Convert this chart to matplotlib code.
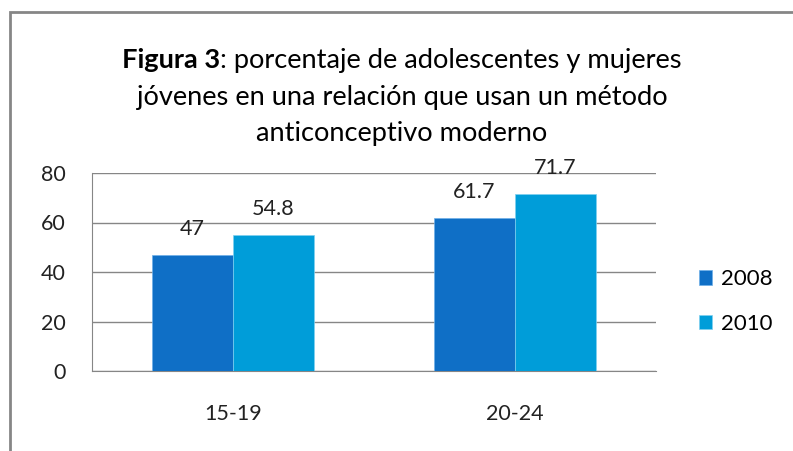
import numpy as np
import matplotlib
matplotlib.use("Agg")
import matplotlib.pyplot as plt
from matplotlib.patches import Rectangle

groups = ["15-19", "20-24"]
years = ["2008", "2010"]
v2008 = [47, 61.7]
v2010 = [54.8, 71.7]
lab2008 = ["47", "61.7"]
lab2010 = ["54.8", "71.7"]
colors = ["#0F6FC6", "#009DD9"]

title_bold = "Figura 3"
title_rest = [": porcentaje de adolescentes y mujeres",
              "jóvenes en una relación que usan un método",
              "anticonceptivo moderno"]

plt.rcParams['font.family'] = ['Lato', 'DejaVu Sans']
W, H = 793, 451
fig = plt.figure(figsize=(W / 100, H / 100), dpi=100)
fig.patch.set_facecolor("white")

# outer chart border (only top and left visible in the crop)
fig.add_artist(Rectangle((10 / W, -0.2), 1.5, (H - 12) / H + 0.2,
                         transform=fig.transFigure, fill=False,
                         edgecolor="#868686", lw=2))

ax = fig.add_axes([92 / W, 1 - 371 / H, (656 - 92) / W, (371 - 173) / H])
x = np.arange(len(groups))
w = 0.287
b1 = ax.bar(x - w / 2, v2008, w, color=colors[0], label=years[0],
            edgecolor="#6fb0e8", lw=0.5, zorder=3)
b2 = ax.bar(x + w / 2, v2010, w, color=colors[1], label=years[1],
            edgecolor="#7fd0f0", lw=0.5, zorder=3)

for bars, labs in [(b1, lab2008), (b2, lab2010)]:
    for r, t in zip(bars, labs):
        ax.annotate(t, (r.get_x() + r.get_width() / 2, r.get_height()),
                    xytext=(0, 26), textcoords="offset pixels",
                    ha="center", va="center", fontsize=15.5, color="#222222")

ax.set_xlim(-0.5, 1.5)
ax.set_ylim(0, 80)
ax.set_yticks([0, 20, 40, 60, 80])
ax.set_xticks(x)
ax.set_xticklabels(groups)
ax.yaxis.grid(True, color="#868686", lw=1)
ax.set_axisbelow(True)
for s in ["top", "right"]:
    ax.spines[s].set_visible(False)
for s in ["left", "bottom"]:
    ax.spines[s].set_color("#868686")
ax.tick_params(axis="y", length=0, pad=19, labelsize=15.5, labelcolor="#222222")
ax.tick_params(axis="x", length=0, pad=24, labelsize=15.5, labelcolor="#222222")

fig.legend(loc="center left", bbox_to_anchor=(699 / W, 1 - 301.5 / H),
           frameon=False, fontsize=16, handlelength=0.6, handleheight=0.6,
           handletextpad=0.4, labelspacing=1.1, borderpad=0, borderaxespad=0)

# title: first line mixes bold and regular
fs = 19.6
cx = 402 / W
r = fig.canvas.get_renderer()
tb = fig.text(0, 0, title_bold, fontsize=fs, fontweight="bold")
tr = fig.text(0, 0, title_rest[0], fontsize=fs)
wb = tb.get_window_extent(r).width
wr = tr.get_window_extent(r).width
x0 = cx * W - (wb + wr) / 2
tb.set_position((x0 / W, 1 - 68 / H))
tr.set_position(((x0 + wb) / W, 1 - 68 / H))
tb.set_va("baseline")
tr.set_va("baseline")
fig.text(cx, 1 - 105 / H, title_rest[1], fontsize=fs, ha="center", va="baseline")
fig.text(cx, 1 - 141 / H, title_rest[2], fontsize=fs, ha="center", va="baseline")

fig.savefig("out.png", dpi=100)
